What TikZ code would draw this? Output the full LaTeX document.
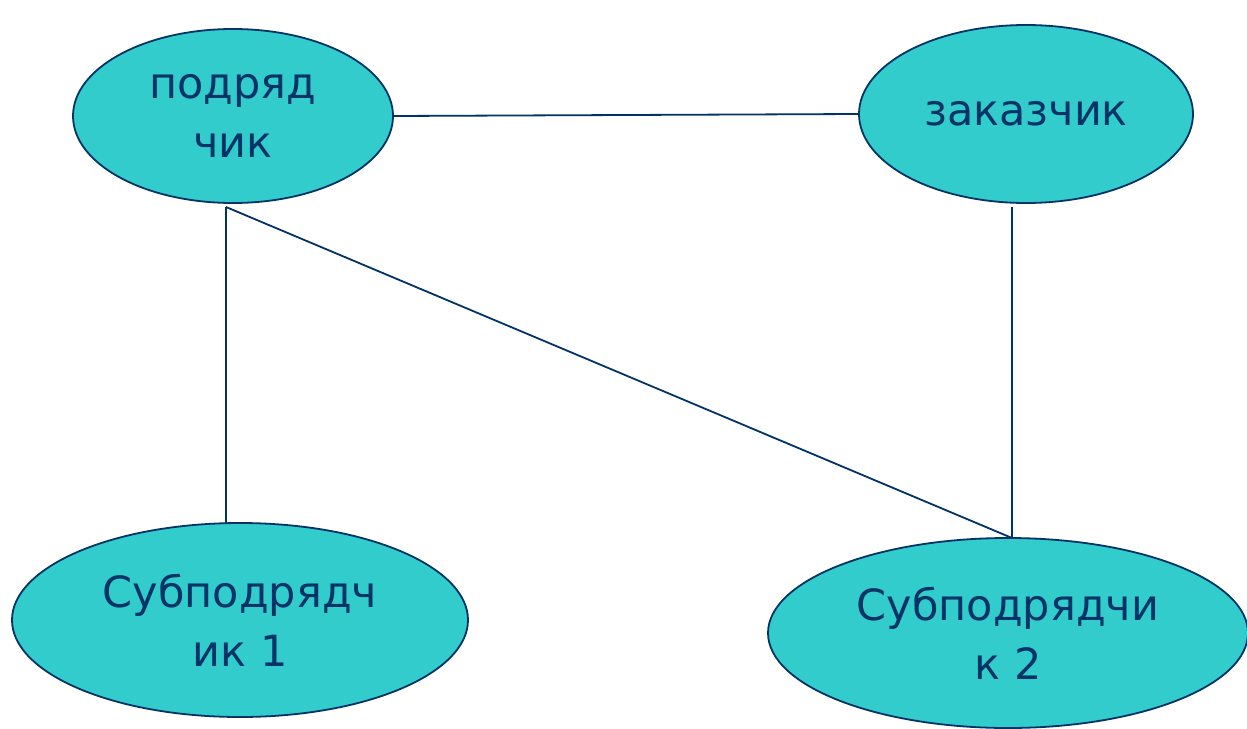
\documentclass[tikz,border=0pt]{standalone}
\usepackage{fontspec}
\setmainfont{DejaVu Sans}
\usetikzlibrary{shapes.geometric}
\definecolor{teal}{HTML}{33CCCC}
\definecolor{navy}{HTML}{003366}
\tikzset{
  party/.style={ellipse, draw=navy, line width=1.8pt, fill=teal, inner sep=0pt,
    text=navy, align=center, font=\fontsize{43}{59}\selectfont},
  link/.style={draw=navy, line width=1.8pt}
}
\begin{document}
\begin{tikzpicture}[x=1pt, y=-1pt]
  \useasboundingbox (0,0) rectangle (1247,728);
  % parties
  \node[party, minimum width=320pt, minimum height=174pt] (contr) at (233,116) {подряд\\чик};
  \node[party, minimum width=334pt, minimum height=178pt] (client) at (1026,114) {заказчик};
  \node[party, minimum width=456pt, minimum height=194pt] (sub1) at (240,620) {Субподрядч\\ик 1};
  \node[party, minimum width=480pt, minimum height=190pt] (sub2) at (1008,633) {Субподрядчи\\к 2};
  % free ends of the links
  \coordinate (cA) at (226,207);
  \coordinate (cB) at (1012,207);
  \coordinate (s1top) at (226,523);
  \coordinate (s2top) at (1012,538);
  % links
  \draw[link] (contr.east) -- (client.west);
  \draw[link] (cA) -- (s1top);
  \draw[link] (cA) -- (s2top);
  \draw[link] (cB) -- (s2top);
\end{tikzpicture}
\end{document}
